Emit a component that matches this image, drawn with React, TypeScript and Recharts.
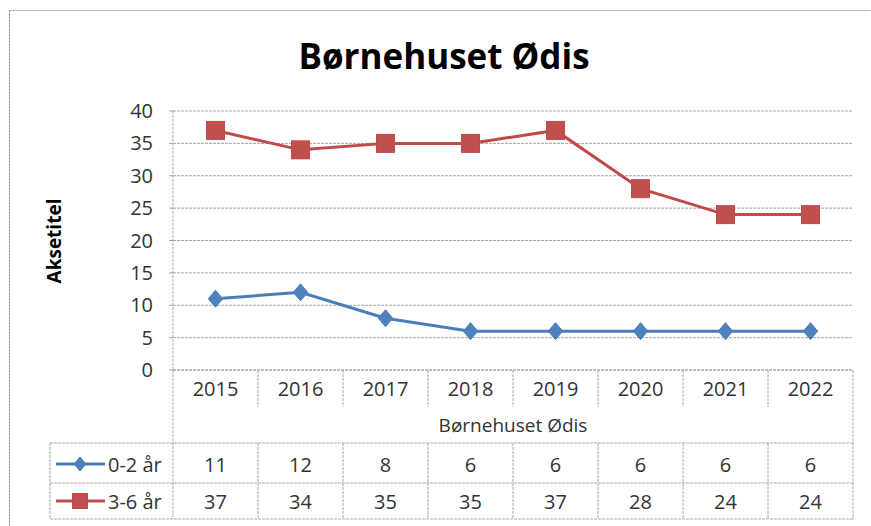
import React from 'react';
import { LineChart, Line, XAxis, YAxis, CartesianGrid, Customized } from 'recharts';

const years = ['2015', '2016', '2017', '2018', '2019', '2020', '2021', '2022'];
const young = [11, 12, 8, 6, 6, 6, 6, 6];
const old = [37, 34, 35, 35, 37, 28, 24, 24];
const yTicks = [0, 5, 10, 15, 20, 25, 30, 35, 40];
const seriesNames = ['0-2 år', '3-6 år'];
const chartTitle = 'Børnehuset Ødis';
const xTitle = 'Børnehuset Ødis';
const yTitle = 'Aksetitel';

const data = years.map((y, i) => ({ year: y, young: young[i], old: old[i] }));

const BLUE_LINE = '#4a7ebb';
const BLUE_FILL = '#4f81bd';
const RED_LINE = '#be4b48';
const RED_FILL = '#c0504d';
const GRID = '#a6a6a6';
const DASH = '3 1';
const FONT = '"Open Sans", "Noto Sans", sans-serif';
const TXT = '#333333';

const HALF = 42.5;
const PLOT_LEFT = 173;
const PLOT_RIGHT = 853;
const AXIS_Y = 370;
const ROW_TOP = 443;
const ROW_MID = 483;
const ROW_BOT = 519;
const TABLE_LEFT = 50;

const Diamond = ({ cx, cy, size = 8.5 }: any) => (
  <polygon
    points={`${cx},${cy - size} ${cx + size * 0.85},${cy} ${cx},${cy + size} ${cx - size * 0.85},${cy}`}
    fill={BLUE_FILL}
    stroke={BLUE_LINE}
    strokeWidth={1}
  />
);

const Square = ({ cx, cy, size = 9 }: any) => (
  <rect x={cx - size} y={cy - size} width={size * 2} height={size * 2} fill={RED_FILL} stroke={RED_LINE} strokeWidth={1} />
);

const YearTick = (props: any) => {
  const { x, index, payload } = props;
  const i = index ?? payload?.index ?? 0;
  const right = x + HALF;
  const isLast = i === years.length - 1;
  return (
    <g>
      <text x={x} y={388} textAnchor="middle" dominantBaseline="central" fontSize={20} fill={TXT} fontFamily={FONT}>
        {payload.value}
      </text>
      {!isLast && <line x1={right} y1={AXIS_Y} x2={right} y2={407} stroke={GRID} strokeDasharray={DASH} />}
      <text x={x} y={464} textAnchor="middle" dominantBaseline="central" fontSize={20} fill={TXT} fontFamily={FONT}>
        {young[i]}
      </text>
      <text x={x} y={501} textAnchor="middle" dominantBaseline="central" fontSize={20} fill={TXT} fontFamily={FONT}>
        {old[i]}
      </text>
      {!isLast && <line x1={right} y1={ROW_TOP} x2={right} y2={ROW_BOT} stroke={GRID} strokeDasharray={DASH} />}
    </g>
  );
};

const Decorations = () => (
  <g>
    <line x1={9.5} y1={10.5} x2={9.5} y2={526} stroke="#7f7f7f" strokeDasharray="2 1" />
    <line x1={9.5} y1={10.5} x2={871} y2={10.5} stroke="#9a9a9a" strokeDasharray="2 1" />
    <text x={444} y={55} textAnchor="middle" dominantBaseline="central" fontSize={35} fontWeight="bold" fill="#000" fontFamily={FONT}>
      {chartTitle}
    </text>
    <text
      x={54}
      y={241}
      transform="rotate(-90 54 241)"
      textAnchor="middle"
      dominantBaseline="central"
      fontSize={19}
      fontWeight="bold"
      fill="#000"
      fontFamily={FONT}
    >
      {yTitle}
    </text>
    <text x={513} y={425} textAnchor="middle" dominantBaseline="central" fontSize={19} fill={TXT} fontFamily={FONT}>
      {xTitle}
    </text>
    <line x1={PLOT_LEFT} y1={AXIS_Y} x2={PLOT_LEFT} y2={ROW_BOT} stroke={GRID} strokeDasharray={DASH} />
    <line x1={PLOT_RIGHT} y1={AXIS_Y} x2={PLOT_RIGHT} y2={ROW_BOT} stroke={GRID} strokeDasharray={DASH} />
    <line x1={TABLE_LEFT} y1={ROW_TOP} x2={TABLE_LEFT} y2={ROW_BOT} stroke={GRID} strokeDasharray={DASH} />
    <line x1={TABLE_LEFT} y1={ROW_TOP} x2={PLOT_RIGHT} y2={ROW_TOP} stroke={GRID} strokeDasharray={DASH} />
    <line x1={TABLE_LEFT} y1={ROW_MID} x2={PLOT_RIGHT} y2={ROW_MID} stroke={GRID} strokeDasharray={DASH} />
    <line x1={TABLE_LEFT} y1={ROW_BOT} x2={PLOT_RIGHT} y2={ROW_BOT} stroke={GRID} strokeDasharray={DASH} />
    <line x1={56} y1={464} x2={105} y2={464} stroke={BLUE_LINE} strokeWidth={3} />
    <Diamond cx={80} cy={464} size={7} />
    <text x={108} y={464} dominantBaseline="central" fontSize={20} fill={TXT} fontFamily={FONT}>
      {seriesNames[0]}
    </text>
    <line x1={56} y1={501} x2={105} y2={501} stroke={RED_LINE} strokeWidth={3} />
    <Square cx={80} cy={501} size={7.5} />
    <text x={108} y={501} dominantBaseline="central" fontSize={20} fill={TXT} fontFamily={FONT}>
      {seriesNames[1]}
    </text>
  </g>
);

export default function App() {
  return (
    <div style={{ position: 'absolute', left: 0, top: 0, width: 871, height: 526, background: '#fff' }}>
      <LineChart width={871} height={526} data={data} margin={{ top: 111, right: 18, bottom: 0, left: 0 }}>
        <CartesianGrid horizontal vertical={false} stroke={GRID} strokeDasharray={DASH} />
        <XAxis
          dataKey="year"
          interval={0}
          height={156}
          padding={{ left: HALF, right: HALF }}
          axisLine={{ stroke: GRID, strokeDasharray: DASH }}
          tickLine={false}
          tick={(p: any) => <YearTick {...p} />}
        />
        <YAxis
          width={173}
          domain={[0, 40]}
          ticks={yTicks}
          interval={0}
          axisLine={{ stroke: GRID, strokeDasharray: DASH }}
          tickLine={{ stroke: GRID }}
          tickSize={4}
          tickMargin={16}
          tick={{ fontSize: 20, fill: TXT, fontFamily: FONT }}
        />
        <Line
          dataKey="young"
          stroke={BLUE_LINE}
          strokeWidth={3}
          isAnimationActive={false}
          dot={(p: any) => <Diamond key={`d${p.index}`} cx={p.cx} cy={p.cy} />}
        />
        <Line
          dataKey="old"
          stroke={RED_LINE}
          strokeWidth={3}
          isAnimationActive={false}
          dot={(p: any) => <Square key={`s${p.index}`} cx={p.cx} cy={p.cy} />}
        />
        <Customized component={<Decorations />} />
      </LineChart>
    </div>
  );
}
